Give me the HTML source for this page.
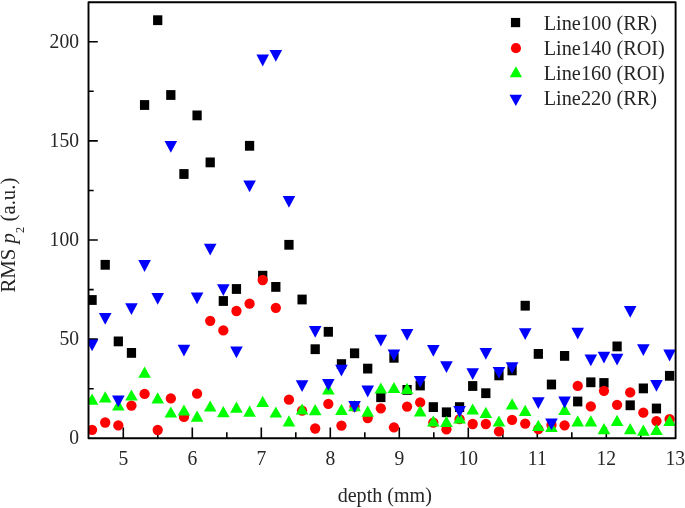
<!DOCTYPE html>
<html><head><meta charset="utf-8"><style>
html,body{margin:0;padding:0;background:#fff;}
svg{display:block;will-change:transform;filter:blur(0.35px);}
text{font-family:"Liberation Serif",serif;fill:#262626;}
</style></head><body>
<svg width="685" height="508" viewBox="0 0 685 508" font-size="19.5">
<defs><clipPath id="c"><rect x="88.5" y="2.2" width="587.1" height="436.1"/></clipPath></defs>
<rect width="685" height="508" fill="#fff"/>
<path d="M123.30 438.3V427.40000000000003M192.30 438.3V427.40000000000003M261.30 438.3V427.40000000000003M330.30 438.3V427.40000000000003M399.30 438.3V427.40000000000003M468.30 438.3V427.40000000000003M537.30 438.3V427.40000000000003M606.30 438.3V427.40000000000003M157.80 438.3V432.3M226.80 438.3V432.3M295.80 438.3V432.3M364.80 438.3V432.3M433.80 438.3V432.3M502.80 438.3V432.3M571.80 438.3V432.3M640.80 438.3V432.3M88.5 339.15H97.8M88.5 240.00H97.8M88.5 140.85H97.8M88.5 41.70H97.8M88.5 388.73H93.7M88.5 289.58H93.7M88.5 190.43H93.7M88.5 91.27H93.7" stroke="#000" stroke-width="1.6" fill="none"/>
<g clip-path="url(#c)">
<g fill="#000"><rect x="87.45" y="295.10" width="9.25" height="9.80"/><rect x="100.58" y="259.90" width="9.25" height="9.80"/><rect x="113.70" y="336.50" width="9.25" height="9.80"/><rect x="126.83" y="348.00" width="9.25" height="9.80"/><rect x="139.95" y="100.10" width="9.25" height="9.80"/><rect x="153.08" y="15.30" width="9.25" height="9.80"/><rect x="166.20" y="90.10" width="9.25" height="9.80"/><rect x="179.33" y="169.10" width="9.25" height="9.80"/><rect x="192.45" y="110.50" width="9.25" height="9.80"/><rect x="205.58" y="157.50" width="9.25" height="9.80"/><rect x="218.70" y="296.10" width="9.25" height="9.80"/><rect x="231.83" y="284.10" width="9.25" height="9.80"/><rect x="244.95" y="140.90" width="9.25" height="9.80"/><rect x="258.08" y="270.80" width="9.25" height="9.80"/><rect x="271.20" y="282.00" width="9.25" height="9.80"/><rect x="284.33" y="239.90" width="9.25" height="9.80"/><rect x="297.45" y="294.60" width="9.25" height="9.80"/><rect x="310.58" y="344.30" width="9.25" height="9.80"/><rect x="323.70" y="326.90" width="9.25" height="9.80"/><rect x="336.83" y="359.20" width="9.25" height="9.80"/><rect x="349.95" y="348.40" width="9.25" height="9.80"/><rect x="363.08" y="363.70" width="9.25" height="9.80"/><rect x="376.20" y="392.30" width="9.25" height="9.80"/><rect x="389.33" y="352.90" width="9.25" height="9.80"/><rect x="402.45" y="385.00" width="9.25" height="9.80"/><rect x="415.58" y="380.60" width="9.25" height="9.80"/><rect x="428.70" y="402.20" width="9.25" height="9.80"/><rect x="441.83" y="407.40" width="9.25" height="9.80"/><rect x="454.95" y="402.20" width="9.25" height="9.80"/><rect x="468.08" y="381.10" width="9.25" height="9.80"/><rect x="481.20" y="388.30" width="9.25" height="9.80"/><rect x="494.33" y="370.50" width="9.25" height="9.80"/><rect x="507.46" y="365.50" width="9.25" height="9.80"/><rect x="520.58" y="300.80" width="9.25" height="9.80"/><rect x="533.71" y="349.00" width="9.25" height="9.80"/><rect x="546.83" y="379.60" width="9.25" height="9.80"/><rect x="559.96" y="351.00" width="9.25" height="9.80"/><rect x="573.08" y="396.60" width="9.25" height="9.80"/><rect x="586.21" y="377.40" width="9.25" height="9.80"/><rect x="599.33" y="378.10" width="9.25" height="9.80"/><rect x="612.46" y="341.50" width="9.25" height="9.80"/><rect x="625.58" y="400.40" width="9.25" height="9.80"/><rect x="638.71" y="383.50" width="9.25" height="9.80"/><rect x="651.83" y="403.60" width="9.25" height="9.80"/><rect x="664.96" y="370.90" width="9.25" height="9.80"/></g>
<g fill="#f00"><circle cx="92.08" cy="429.80" r="5.15"/><circle cx="105.20" cy="422.50" r="5.15"/><circle cx="118.33" cy="425.40" r="5.15"/><circle cx="131.45" cy="405.60" r="5.15"/><circle cx="144.58" cy="393.90" r="5.15"/><circle cx="157.70" cy="430.00" r="5.15"/><circle cx="170.83" cy="398.40" r="5.15"/><circle cx="183.95" cy="416.90" r="5.15"/><circle cx="197.08" cy="393.70" r="5.15"/><circle cx="210.20" cy="320.80" r="5.15"/><circle cx="223.33" cy="330.40" r="5.15"/><circle cx="236.45" cy="311.00" r="5.15"/><circle cx="249.58" cy="303.70" r="5.15"/><circle cx="262.70" cy="280.00" r="5.15"/><circle cx="275.83" cy="307.80" r="5.15"/><circle cx="288.95" cy="399.70" r="5.15"/><circle cx="302.08" cy="410.60" r="5.15"/><circle cx="315.20" cy="428.50" r="5.15"/><circle cx="328.33" cy="403.80" r="5.15"/><circle cx="341.45" cy="425.60" r="5.15"/><circle cx="354.58" cy="406.50" r="5.15"/><circle cx="367.70" cy="418.00" r="5.15"/><circle cx="380.83" cy="408.30" r="5.15"/><circle cx="393.95" cy="427.30" r="5.15"/><circle cx="407.08" cy="406.60" r="5.15"/><circle cx="420.20" cy="402.40" r="5.15"/><circle cx="433.33" cy="422.60" r="5.15"/><circle cx="446.45" cy="429.30" r="5.15"/><circle cx="459.58" cy="419.20" r="5.15"/><circle cx="472.70" cy="424.00" r="5.15"/><circle cx="485.83" cy="424.00" r="5.15"/><circle cx="498.95" cy="431.40" r="5.15"/><circle cx="512.08" cy="419.80" r="5.15"/><circle cx="525.21" cy="423.60" r="5.15"/><circle cx="538.33" cy="429.10" r="5.15"/><circle cx="551.46" cy="425.00" r="5.15"/><circle cx="564.58" cy="425.30" r="5.15"/><circle cx="577.71" cy="385.90" r="5.15"/><circle cx="590.83" cy="406.40" r="5.15"/><circle cx="603.96" cy="390.80" r="5.15"/><circle cx="617.08" cy="404.80" r="5.15"/><circle cx="630.21" cy="392.40" r="5.15"/><circle cx="643.33" cy="412.70" r="5.15"/><circle cx="656.46" cy="421.10" r="5.15"/><circle cx="669.58" cy="419.10" r="5.15"/></g>
<g fill="#0f0"><path d="M85.78 404.80L98.38 404.80L92.08 393.60Z"/><path d="M98.91 402.40L111.50 402.40L105.20 391.20Z"/><path d="M112.03 410.60L124.63 410.60L118.33 399.40Z"/><path d="M125.15 400.60L137.75 400.60L131.45 389.40Z"/><path d="M138.28 377.80L150.88 377.80L144.58 366.60Z"/><path d="M151.40 403.40L164.00 403.40L157.70 392.20Z"/><path d="M164.53 417.60L177.13 417.60L170.83 406.40Z"/><path d="M177.65 415.60L190.25 415.60L183.95 404.40Z"/><path d="M190.78 421.70L203.38 421.70L197.08 410.50Z"/><path d="M203.90 411.60L216.50 411.60L210.20 400.40Z"/><path d="M217.03 417.30L229.63 417.30L223.33 406.10Z"/><path d="M230.15 412.80L242.75 412.80L236.45 401.60Z"/><path d="M243.28 416.80L255.88 416.80L249.58 405.60Z"/><path d="M256.40 406.90L269.00 406.90L262.70 395.70Z"/><path d="M269.53 417.60L282.13 417.60L275.83 406.40Z"/><path d="M282.65 426.40L295.25 426.40L288.95 415.20Z"/><path d="M295.78 414.60L308.38 414.60L302.08 403.40Z"/><path d="M308.90 415.20L321.50 415.20L315.20 404.00Z"/><path d="M322.03 394.40L334.63 394.40L328.33 383.20Z"/><path d="M335.15 415.00L347.75 415.00L341.45 403.80Z"/><path d="M348.28 411.30L360.88 411.30L354.58 400.10Z"/><path d="M361.40 416.80L374.00 416.80L367.70 405.60Z"/><path d="M374.53 393.60L387.13 393.60L380.83 382.40Z"/><path d="M387.65 393.10L400.25 393.10L393.95 381.90Z"/><path d="M400.78 393.90L413.38 393.90L407.08 382.70Z"/><path d="M413.90 416.40L426.50 416.40L420.20 405.20Z"/><path d="M427.03 426.60L439.63 426.60L433.33 415.40Z"/><path d="M440.15 427.00L452.75 427.00L446.45 415.80Z"/><path d="M453.28 423.40L465.88 423.40L459.58 412.20Z"/><path d="M466.40 414.60L479.00 414.60L472.70 403.40Z"/><path d="M479.53 417.90L492.13 417.90L485.83 406.70Z"/><path d="M492.65 426.60L505.25 426.60L498.95 415.40Z"/><path d="M505.78 409.40L518.38 409.40L512.08 398.20Z"/><path d="M518.91 415.90L531.50 415.90L525.21 404.70Z"/><path d="M532.03 430.90L544.63 430.90L538.33 419.70Z"/><path d="M545.16 431.90L557.75 431.90L551.46 420.70Z"/><path d="M558.28 414.90L570.88 414.90L564.58 403.70Z"/><path d="M571.41 426.50L584.00 426.50L577.71 415.30Z"/><path d="M584.53 426.50L597.13 426.50L590.83 415.30Z"/><path d="M597.66 434.20L610.25 434.20L603.96 423.00Z"/><path d="M610.78 425.90L623.38 425.90L617.08 414.70Z"/><path d="M623.91 434.30L636.50 434.30L630.21 423.10Z"/><path d="M637.03 435.80L649.63 435.80L643.33 424.60Z"/><path d="M650.16 435.10L662.75 435.10L656.46 423.90Z"/><path d="M663.28 426.10L675.88 426.10L669.58 414.90Z"/></g>
<g fill="#00f"><path d="M85.78 339.40L98.38 339.40L92.08 351.20Z"/><path d="M98.91 313.00L111.50 313.00L105.20 324.80Z"/><path d="M112.03 395.40L124.63 395.40L118.33 407.20Z"/><path d="M125.15 303.20L137.75 303.20L131.45 315.00Z"/><path d="M138.28 260.10L150.88 260.10L144.58 271.90Z"/><path d="M151.40 292.90L164.00 292.90L157.70 304.70Z"/><path d="M164.53 140.90L177.13 140.90L170.83 152.70Z"/><path d="M177.65 344.70L190.25 344.70L183.95 356.50Z"/><path d="M190.78 292.50L203.38 292.50L197.08 304.30Z"/><path d="M203.90 243.70L216.50 243.70L210.20 255.50Z"/><path d="M217.03 284.20L229.63 284.20L223.33 296.00Z"/><path d="M230.15 346.40L242.75 346.40L236.45 358.20Z"/><path d="M243.28 180.40L255.88 180.40L249.58 192.20Z"/><path d="M256.40 54.60L269.00 54.60L262.70 66.40Z"/><path d="M269.53 50.00L282.13 50.00L275.83 61.80Z"/><path d="M282.65 196.00L295.25 196.00L288.95 207.80Z"/><path d="M295.78 380.30L308.38 380.30L302.08 392.10Z"/><path d="M308.90 326.00L321.50 326.00L315.20 337.80Z"/><path d="M322.03 378.90L334.63 378.90L328.33 390.70Z"/><path d="M335.15 364.70L347.75 364.70L341.45 376.50Z"/><path d="M348.28 400.90L360.88 400.90L354.58 412.70Z"/><path d="M361.40 385.60L374.00 385.60L367.70 397.40Z"/><path d="M374.53 334.80L387.13 334.80L380.83 346.60Z"/><path d="M387.65 349.40L400.25 349.40L393.95 361.20Z"/><path d="M400.78 328.90L413.38 328.90L407.08 340.70Z"/><path d="M413.90 375.90L426.50 375.90L420.20 387.70Z"/><path d="M427.03 344.90L439.63 344.90L433.33 356.70Z"/><path d="M440.15 361.30L452.75 361.30L446.45 373.10Z"/><path d="M453.28 405.90L465.88 405.90L459.58 417.70Z"/><path d="M466.40 368.30L479.00 368.30L472.70 380.10Z"/><path d="M479.53 347.90L492.13 347.90L485.83 359.70Z"/><path d="M492.65 367.00L505.25 367.00L498.95 378.80Z"/><path d="M505.78 362.30L518.38 362.30L512.08 374.10Z"/><path d="M518.91 328.30L531.50 328.30L525.21 340.10Z"/><path d="M532.03 397.30L544.63 397.30L538.33 409.10Z"/><path d="M545.16 418.40L557.75 418.40L551.46 430.20Z"/><path d="M558.28 396.60L570.88 396.60L564.58 408.40Z"/><path d="M571.41 327.70L584.00 327.70L577.71 339.50Z"/><path d="M584.53 354.40L597.13 354.40L590.83 366.20Z"/><path d="M597.66 351.80L610.25 351.80L603.96 363.60Z"/><path d="M610.78 353.70L623.38 353.70L617.08 365.50Z"/><path d="M623.91 306.00L636.50 306.00L630.21 317.80Z"/><path d="M637.03 344.30L649.63 344.30L643.33 356.10Z"/><path d="M650.16 379.90L662.75 379.90L656.46 391.70Z"/><path d="M663.28 349.60L675.88 349.60L669.58 361.40Z"/></g>
</g>
<rect x="88.5" y="2.2" width="587.1" height="436.1" fill="none" stroke="#000" stroke-width="1.9" stroke-linejoin="round"/>
<text transform="translate(123.30 465) scale(1 1.05)" text-anchor="middle" font-size="19.6">5</text><text transform="translate(192.30 465) scale(1 1.05)" text-anchor="middle" font-size="19.6">6</text><text transform="translate(261.30 465) scale(1 1.05)" text-anchor="middle" font-size="19.6">7</text><text transform="translate(330.30 465) scale(1 1.05)" text-anchor="middle" font-size="19.6">8</text><text transform="translate(399.30 465) scale(1 1.05)" text-anchor="middle" font-size="19.6">9</text><text transform="translate(468.30 465) scale(1 1.05)" text-anchor="middle" font-size="19.6">10</text><text transform="translate(537.30 465) scale(1 1.05)" text-anchor="middle" font-size="19.6">11</text><text transform="translate(606.30 465) scale(1 1.05)" text-anchor="middle" font-size="19.6">12</text><text transform="translate(675.30 465) scale(1 1.05)" text-anchor="middle" font-size="19.6">13</text>
<text transform="translate(79 444.30) scale(1 1.05)" text-anchor="end" font-size="19.6">0</text><text transform="translate(79 345.15) scale(1 1.05)" text-anchor="end" font-size="19.6">50</text><text transform="translate(79 246.00) scale(1 1.05)" text-anchor="end" font-size="19.6">100</text><text transform="translate(79 146.85) scale(1 1.05)" text-anchor="end" font-size="19.6">150</text><text transform="translate(79 47.70) scale(1 1.05)" text-anchor="end" font-size="19.6">200</text>
<text transform="translate(384.8 502.4) scale(1 1.05)" text-anchor="middle" font-size="20.1">depth (mm)</text>
<text transform="translate(15.2 292.6) rotate(-90) scale(1 1.05)" font-size="20.85">RMS <tspan font-style="italic">p</tspan><tspan font-size="12.4" dy="8.2">2</tspan><tspan dy="-8.2"> (a.u.)</tspan></text>
<g fill="#000"><rect x="510.92" y="17.93" width="9.25" height="9.25"/></g>
<g fill="#f00"><circle cx="515.95" cy="48.15" r="5.05"/></g>
<g fill="#0f0"><path d="M509.75 77.20L522.05 77.20L515.90 66.20Z"/></g>
<g fill="#00f"><path d="M509.50 94.70L522.10 94.70L515.80 106.00Z"/></g>
<g font-size="20.3">
<text transform="translate(543.7 29.6) scale(1 1.045)">Line100 (RR)</text>
<text transform="translate(543.7 54.9) scale(1 1.045)">Line140 (ROI)</text>
<text transform="translate(543.7 80.1) scale(1 1.045)">Line160 (ROI)</text>
<text transform="translate(543.7 105.4) scale(1 1.045)">Line220 (RR)</text>
</g>
</svg>
</body></html>
